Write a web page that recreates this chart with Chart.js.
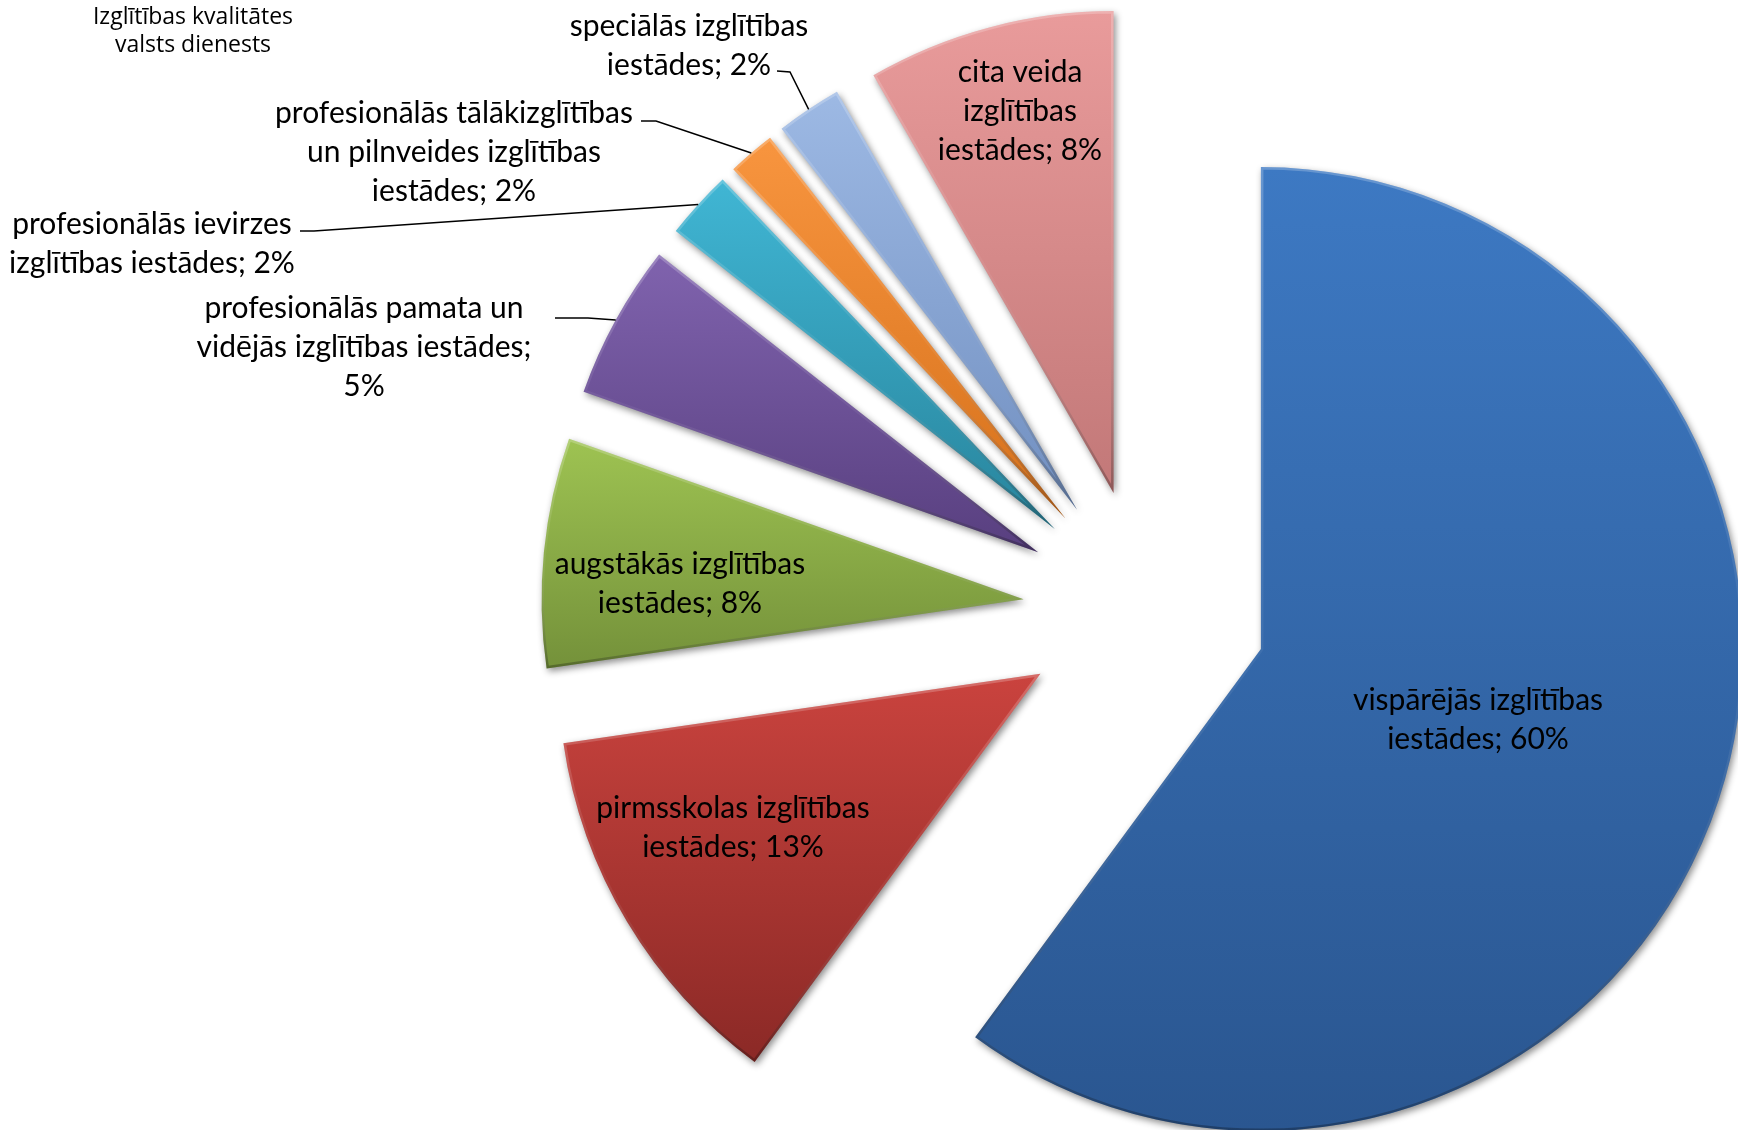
<!DOCTYPE html>
<html>
<head>
<meta charset="utf-8">
<script src="https://cdn.jsdelivr.net/npm/chart.js@4.4.1/dist/chart.umd.min.js"></script>
<style>
  html, body { margin: 0; padding: 0; background: #fff; }
  #wrap { position: relative; width: 1738px; height: 1130px; overflow: hidden; }
  #org {
    position: absolute; left: 0; top: 1px; width: 386px;
    font: 23px "Open Sans", sans-serif; line-height: 28px;
    text-align: center; color: #000;
  }
</style>
</head>
<body>
<div id="wrap">
  <canvas id="pie" width="1738" height="1130"></canvas>
  <div id="org">Izglītības kvalitātes<br>valsts dienests</div>
</div>
<script>
'use strict'

// data, clockwise from 12 o'clock
const categories = [
    'vispārējās izglītības iestādes',
    'pirmsskolas izglītības iestādes',
    'augstākās izglītības iestādes',
    'profesionālās pamata un vidējās izglītības iestādes',
    'profesionālās ievirzes izglītības iestādes',
    'profesionālās tālākizglītības un pilnveides izglītības iestādes',
    'speciālās izglītības iestādes',
    'cita veida izglītības iestādes'
]
const shares = [60.1, 12.6, 7.7, 5.2, 2.3, 1.6, 2.2, 8.3]

// how many words go on each label line
const lineWords = [[2, 2], [2, 2], [2, 2], [3, 3, 1], [2, 3], [2, 3, 2], [2, 2], [2, 1, 2]]

// look
const topColors = ['#3d79c3', '#ca433e', '#9ec352', '#8063ae', '#40b6d4', '#f8953f', '#9db9e4', '#e99b9b']
const bottomColors = ['#2a5690', '#8b2926', '#74913a', '#583f7f', '#28849c', '#d6711b', '#718fc0', '#c27878']
const explodeBy = 122
const pieRadius = 482
const lineGap = 39
const labelFont = '30px Lato'

// label placement (centre of first line) and leader line start points
const labelAt = [[1478, 700], [733, 808], [680, 564], [364, 308], [152, 224], [454, 113], [689, 26], [1020, 72]]
const leaderFrom = [null, null, null, [[555, 318], [588, 318]], [[300, 231], [314, 231]], [[641, 121], [656, 121]], [[777, 71], [790, 72]], null]

function arcYRange(arc) {
    const ys = [arc.y]
    for (let k = 0; k <= 40; k++) {
        const a = arc.startAngle + (arc.endAngle - arc.startAngle) * k / 40
        ys.push(arc.y + Math.sin(a) * arc.outerRadius)
    }
    return [Math.min(...ys), Math.max(...ys)]
}

const slicePlugin = {
    id: 'slices',
    afterDatasetsUpdate(chart) {
        // explode every slice along its middle angle
        chart.getDatasetMeta(0).data.forEach(arc => {
            const mid = (arc.startAngle + arc.endAngle) / 2
            arc.x += Math.cos(mid) * explodeBy
            arc.y += Math.sin(mid) * explodeBy
        })
    },
    beforeDatasetDraw(chart) {
        const ctx = chart.ctx
        chart.getDatasetMeta(0).data.forEach((arc, i) => {
            const [y0, y1] = arcYRange(arc)
            const g = ctx.createLinearGradient(0, y0, 0, y1)
            g.addColorStop(0, topColors[i])
            g.addColorStop(1, bottomColors[i])
            arc.options = Object.assign({}, arc.options, {backgroundColor: g})
        })
        ctx.save()
        ctx.shadowColor = 'rgba(0,0,0,0.45)'
        ctx.shadowBlur = 7
        ctx.shadowOffsetX = 2
        ctx.shadowOffsetY = 3
    },
    afterDatasetDraw(chart) {
        const ctx = chart.ctx
        ctx.restore()
        // soft bevel rim
        chart.getDatasetMeta(0).data.forEach(arc => {
            const [y0, y1] = arcYRange(arc)
            ctx.save()
            ctx.beginPath()
            ctx.moveTo(arc.x, arc.y)
            ctx.arc(arc.x, arc.y, arc.outerRadius, arc.startAngle, arc.endAngle)
            ctx.closePath()
            ctx.clip()
            const g = ctx.createLinearGradient(0, y0, 0, y1)
            g.addColorStop(0, 'rgba(255,255,255,0.22)')
            g.addColorStop(0.5, 'rgba(255,255,255,0.05)')
            g.addColorStop(1, 'rgba(0,0,0,0.28)')
            ctx.lineWidth = 5
            ctx.lineJoin = 'round'
            ctx.strokeStyle = g
            ctx.stroke()
            ctx.restore()
        })
    },
    afterDatasetsDraw(chart) {
        const ctx = chart.ctx
        const total = shares.reduce((a, b) => a + b, 0)
        ctx.save()
        ctx.font = labelFont
        ctx.fillStyle = '#000'
        ctx.strokeStyle = '#000'
        ctx.lineWidth = 1.5
        ctx.textAlign = 'center'
        ctx.textBaseline = 'middle'
        chart.getDatasetMeta(0).data.forEach((arc, i) => {
            const words = (categories[i] + '; ' + Math.round(shares[i] / total * 100) + '%').split(' ')
            let k = 0
            lineWords[i].forEach((n, j) => {
                ctx.fillText(words.slice(k, k + n).join(' '), labelAt[i][0], labelAt[i][1] + j * lineGap)
                k += n
            })
            if (leaderFrom[i]) {
                const mid = (arc.startAngle + arc.endAngle) / 2
                ctx.beginPath()
                leaderFrom[i].forEach((p, j) => j ? ctx.lineTo(p[0], p[1]) : ctx.moveTo(p[0], p[1]))
                ctx.lineTo(arc.x + Math.cos(mid) * arc.outerRadius, arc.y + Math.sin(mid) * arc.outerRadius)
                ctx.stroke()
            }
        })
        ctx.restore()
    }
}

new Chart(document.getElementById('pie'), {
    type: 'pie',
    data: {
        labels: categories,
        datasets: [{
            data: shares,
            backgroundColor: topColors,
            borderWidth: 0,
            radius: pieRadius,
            clip: false
        }]
    },
    options: {
        responsive: false,
        animation: false,
        events: [],
        layout: {padding: {left: 552, top: 92, right: 0, bottom: 0}},
        plugins: {
            legend: {display: false},
            tooltip: {enabled: false}
        }
    },
    plugins: [slicePlugin]
})
</script>
</body>
</html>
